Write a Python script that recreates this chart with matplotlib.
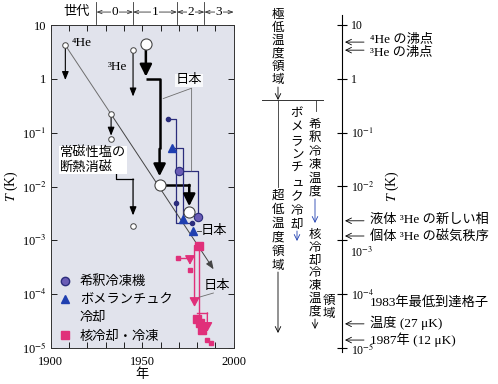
import matplotlib
matplotlib.use('Agg')
import matplotlib.pyplot as plt
from matplotlib.lines import Line2D
from matplotlib.ticker import MultipleLocator, NullLocator

plt.rcParams['font.family'] = ['Liberation Serif', 'Noto Sans CJK JP']
plt.rcParams['mathtext.fontset'] = 'stix'
plt.rcParams['font.size'] = 9

W, H = 498, 384

# ---- data : (year, temperature K) ----
decades = [1e-5, 1e-4, 1e-3, 1e-2, 1e-1, 1, 10]
dec_labels = ['10$^{-5}$', '10$^{-4}$', '10$^{-3}$', '10$^{-2}$', '10$^{-1}$', '1', '10']

he4_year = [1908, 1908]
he4_T = [4.2, 0.95]
he3_year = [1945, 1945]
he3_T = [3.4, 0.47]
trend_year = [1908, 1933, 1989]
trend_T = [4.2, 0.22, 2.9e-4]
salt_year = [1933, 1933]
salt_T = [0.22, 0.088]
salt_mark = [0.076]
salt2_year = [1935.5, 1935.5, 1945, 1945]
salt2_T = [0.025, 0.0138, 0.0138, 2.9e-3]
salt2_mark = [1.85e-3]

jp_year = [1952, 1959.5, 1975.7]
jp_T = [4.4, 0.0107, 3.3e-3]
jp_step_T = [1.0, 0.0155, 4.3e-3]

dots_year = [1964.3, 1968.3, 1977.0]
dots_T = [0.18, 5.0e-3, 2.06e-3]

pom_year = [1966.1, 1972.5, 1977.9]
pom_T = [0.052, 2.45e-3, 1.48e-3]

dil_year = [1970.3, 1980.7]
dil_T = [0.0195, 2.7e-3]

nuc_big_year = [1980.8, 1979.8, 1981.6, 1982.5]
nuc_big_T = [8.0e-4, 3.4e-5, 2.9e-5, 2.2e-5]
nuc_small_year = [1969.4, 1976.1, 1985.2, 1987.4]
nuc_small_T = [4.7e-4, 2.8e-4, 1.4e-5, 1.23e-5]

gen_edges = [1925, 1945, 1969, 1984, 2000]
gen_names = ['0', '1', '2', '3']

mark_T = [4.8, 3.4, 2.3e-3, 1.2e-3, 2.8e-5, 1.4e-5]
mark_labels = ['⁴He の沸点', '³He の沸点', '液体 ³He の新しい相',
               '個体 ³He の磁気秩序', '温度 (27 μK)', '1987年 (12 μK)']
mark_text_px = [40, 53, 220, 236.7, 323.3, 339.3]

navy = '#2b2d7c'
blue = '#1f3fb0'
purple = '#6a5cb5'
pink = '#e0307a'
grey = '#6e6e6e'


def T_px(py):
    # pixel row -> temperature on the shared log scale (text placement only)
    return 10 ** (1 - (py - 25) / 53.83)


fig = plt.figure(figsize=(W / 100, H / 100), dpi=100)
ax = fig.add_axes([50.7 / W, 36 / H, 183 / W, 323 / H])
ax.set_facecolor('#e1e3ec')
ax.set_yscale('log')
ax.set_xlim(1900, 2000)
ax.set_ylim(1e-5, 10)
ax.set_xticks([1900, 1950, 2000])
ax.xaxis.set_minor_locator(MultipleLocator(10))
ax.set_yticks(decades)
ax.set_yticklabels(dec_labels)
ax.yaxis.set_minor_locator(NullLocator())
ax.tick_params(which='both', direction='in', top=True, right=True,
               length=4, width=0.6, labelsize=9, pad=3)
ax.tick_params(axis='x', pad=6)
for s in ax.spines.values():
    s.set_linewidth(0.7)
    s.set_color('#333')
ax.set_xlabel('年', fontsize=9.5, labelpad=0)
ax.set_ylabel('$T$ (K)', fontsize=10, labelpad=1)


def arrow(a, x0, y0, x1, y1, color='k', lw=0.8, hl=0.5, hw=0.2, ms=10, style='-|>'):
    a.annotate('', xy=(x1, y1), xytext=(x0, y0), annotation_clip=False,
               arrowprops=dict(arrowstyle=f'{style},head_length={hl},head_width={hw}',
                               color=color, lw=lw, shrinkA=0, shrinkB=0,
                               mutation_scale=ms))


small = dict(marker='o', ms=4, mfc='white', mec='#444', mew=0.7, ls='none', zorder=5)

# trend line
ax.plot(trend_year[:2], trend_T[:2], color=grey, lw=0.7)
arrow(ax, trend_year[1], trend_T[1], trend_year[2], trend_T[2], color='#444', lw=0.7)

# 4He, 3He
arrow(ax, he4_year[0], he4_T[0], he4_year[1], he4_T[1])
arrow(ax, he3_year[0], he3_T[0], he3_year[1], he3_T[1])
ax.plot([he4_year[0], he3_year[0], trend_year[1]], [he4_T[0], he3_T[0], trend_T[1]], **small)
ax.text(1911.6, 4.6, '⁴He', ha='left', va='center', fontsize=9.5)
ax.text(1931.3, 1.68, '³He', ha='left', va='center', fontsize=9.5)

# paramagnetic salt
arrow(ax, salt_year[0], salt_T[0], salt_year[1], salt_T[1])
ax.plot([salt_year[0]], salt_mark, **small)
ax.plot(salt2_year[:3], salt2_T[:3], color='k', lw=0.9)
arrow(ax, salt2_year[2], salt2_T[2], salt2_year[3], salt2_T[3], lw=0.9)
ax.plot([salt2_year[3]], salt2_mark, **small)
ax.text(1905, 0.031, '常磁性塩の\n断熱消磁', ha='left', va='center', fontsize=9.5,
        linespacing=1.15, bbox=dict(fc='white', ec='none', pad=0.6))

# thick black path (Japan)
thick = dict(lw=1.8, hl=0.6, hw=0.3, ms=12)
arrow(ax, jp_year[0], jp_T[0], jp_year[0], jp_step_T[0] * 1.1, **thick)
ax.plot([jp_year[0], jp_year[1], jp_year[1]], [jp_step_T[0], jp_step_T[0], 0.05],
        color='k', lw=1.8, solid_capstyle='butt')
arrow(ax, jp_year[1], 0.05, jp_year[1], jp_step_T[1], **thick)
ax.plot([jp_year[1], jp_year[2]], [jp_T[1], jp_T[1]], color='k', lw=1.8)
arrow(ax, jp_year[2], jp_T[1], jp_year[2], jp_step_T[2], **thick)
ax.plot(jp_year, jp_T, marker='o', ls='none', mfc='white', mec='#444', mew=0.8,
        zorder=6, ms=8)

# navy dots
ax.plot([dots_year[0], dots_year[1], dots_year[1], dots_year[2]],
        [dots_T[0], dots_T[0], dots_T[2], dots_T[2]], color=navy, lw=0.9)
ax.plot(dots_year, dots_T, 'o', color=navy, ms=3, zorder=5)

# Pomeranchuk
ax.plot([pom_year[0], pom_year[1], pom_year[1]], [pom_T[0], pom_T[0], pom_T[1]],
        color=navy, lw=0.9)
ax.plot(pom_year, pom_T, '^', color=blue, ms=5.5, zorder=5)

# dilution
ax.plot([dil_year[0], dil_year[1], dil_year[1]], [dil_T[0], dil_T[0], dil_T[1]],
        color=navy, lw=0.9)
ax.plot(dil_year, dil_T, 'o', mfc=purple, mec=navy, mew=0.8, ms=6, zorder=5)

# nuclear cooling
ax.plot([nuc_big_year[0], nuc_big_year[0]], [nuc_big_T[0], nuc_big_T[2]], color=pink, lw=1.0)
arrow(ax, 1978.6, nuc_big_T[0], 1978.6, 5.8e-5, color=pink, lw=1.0, hl=0.55, hw=0.3)
ax.plot(nuc_small_year[:2], [nuc_small_T[0], nuc_small_T[0]], color=pink, lw=1.0)
arrow(ax, nuc_small_year[1], nuc_small_T[0], nuc_small_year[1], 3.5e-4, color=pink,
      lw=1.0, hl=0.55, hw=0.3)
ax.plot([nuc_big_year[1], 1985.6], [4.5e-5, 4.5e-5], color=pink, lw=1.0)
arrow(ax, 1985.6, 4.5e-5, 1985.6, 2.0e-5, color=pink, lw=1.0, hl=0.55, hw=0.3)
ax.plot(nuc_big_year, nuc_big_T, 's', color=pink, ms=6, zorder=5)
ax.plot(nuc_small_year, nuc_small_T, 's', color=pink, ms=3, zorder=5)

# Japan labels
wb = dict(fc='white', ec='none', pad=0.4, alpha=0.8)
ax.text(1975.5, 0.95, '日本', ha='center', va='center', fontsize=9.5, bbox=wb)
ax.plot([1961.5, 1977.0, 1977.0], [0.43, 0.67, 0.0195], color=grey, lw=0.6)
ax.plot([1979.8, 1982.0], [1.48e-3, 1.48e-3], color='#333', lw=0.6)
ax.text(1982.2, 1.48e-3, '日本', ha='left', va='center', fontsize=9.5)
ax.plot([1980.7, 1988.9], [8.7e-5, 1.05e-4], color=grey, lw=0.6)
ax.text(1990.6, 1.4e-4, '日本', ha='center', va='center', fontsize=9.5)

# legend (the second label wraps onto a row of its own)
handles = [Line2D([], [], marker='o', ls='none', mfc=purple, mec=navy, ms=6),
           Line2D([], [], marker='^', ls='none', color=blue, ms=6),
           Line2D([], [], ls='none'),
           Line2D([], [], marker='s', ls='none', color=pink, ms=6)]
ax.legend(handles, ['希釈冷凍機', 'ボメランチュク', '冷却', '核冷却・冷凍'],
          loc='lower left', bbox_to_anchor=(0.0, -0.012), frameon=False,
          fontsize=9.5, handlelength=0.8, handletextpad=0.7, labelspacing=0.45,
          borderpad=0.2)

# generation bar above the axes
gy = 17.4
for e in gen_edges[:-1]:
    ax.plot([e, e], [10.4, 26.8], color='#333', lw=0.6, clip_on=False)
for i, n in enumerate(gen_names):
    a, b = gen_edges[i], gen_edges[i + 1]
    ax.annotate('', xy=(a, gy), xytext=(b, gy), annotation_clip=False,
                arrowprops=dict(arrowstyle='<->,head_length=0.4,head_width=0.15',
                                lw=0.6, color='#333', shrinkA=0, shrinkB=0,
                                mutation_scale=8))
    ax.text((a + b) / 2, gy, n, ha='center', va='center', fontsize=9.5,
            bbox=dict(fc='white', ec='none', pad=0.6), clip_on=False)
ax.text(1914.4, gy, '世代', ha='center', va='center', fontsize=9.5, clip_on=False)

# ---- right scale ----
ax2 = fig.add_axes([250 / W, 32 / H, 248 / W, 337 / H])
ax2.set_yscale('log')
ax2.set_xlim(250, 498)
ax2.set_ylim(8.4e-6, 15.3)
ax2.patch.set_visible(False)
for k in ['left', 'top', 'bottom']:
    ax2.spines[k].set_visible(False)
ax2.spines['right'].set_position(('data', 342))
ax2.spines['right'].set_linewidth(0.8)
ax2.yaxis.tick_right()
ax2.set_yticks(decades)
ax2.set_yticklabels([l if v != 1e-3 else '' for v, l in zip(decades, dec_labels)])
ax2.yaxis.set_minor_locator(NullLocator())
ax2.tick_params(axis='y', direction='inout', length=7, width=0.8, labelsize=8.5, pad=3)
ax2.set_xticks([])
ax2.annotate('10$^{-3}$', xy=(342, 1e-3), xytext=(6, -9), textcoords='offset points',
             ha='left', va='center', fontsize=8.5)
ax2.text(392, 1e-2, '$T$ (K)', rotation=90, ha='center', va='center', fontsize=10)

for T, lab, py in zip(mark_T, mark_labels, mark_text_px):
    ax2.annotate('', xy=(345, T), xytext=(364, T),
                 arrowprops=dict(arrowstyle='->,head_length=0.5,head_width=0.25', lw=0.6,
                                 shrinkA=0, shrinkB=0, mutation_scale=8))
    ax2.text(370, T_px(py), lab, ha='left', va='center', fontsize=9.5)
ax2.text(370, T_px(303), '1983年最低到達格子', ha='left', va='center', fontsize=9.5)

# ---- middle region labels (pixel layout) ----
ov = fig.add_axes([0, 0, 1, 1])
ov.set_xlim(0, W)
ov.set_ylim(H, 0)
ov.axis('off')


def vtext(x, ytop, s, pitch=13.3):
    for i, ch in enumerate(s):
        ov.text(x, ytop + i * pitch, ch, ha='center', va='center', fontsize=9)


def varrow(x, y0, y1, color='k'):
    ov.annotate('', xy=(x, y1), xytext=(x, y0),
                arrowprops=dict(arrowstyle='->,head_length=0.5,head_width=0.25',
                                lw=0.6, color=color, shrinkA=0, shrinkB=0,
                                mutation_scale=8))


vtext(278, 15, '極低温度領域', 13)
varrow(278, 87, 100)
ov.plot([262, 323], [100, 100], color='#333', lw=0.7)
ov.plot([278, 278], [100, 187], color='#333', lw=0.6)
vtext(278, 196, '超低温度領域', 14)
varrow(278, 272, 333)
vtext(297, 113, 'ボメランチュク冷却', 14)
varrow(297, 231, 241, color=blue)
ov.plot([316, 316], [100, 111], color='#333', lw=0.6)
vtext(315, 125, '希釈冷凍温度', 13.4)
varrow(315, 199, 223, color=blue)
vtext(315, 235, '核冷却冷凍温度', 12.8)
varrow(315, 319, 329)
vtext(329, 301, '領域', 13)

fig.savefig('out.png', dpi=100, facecolor='white')
